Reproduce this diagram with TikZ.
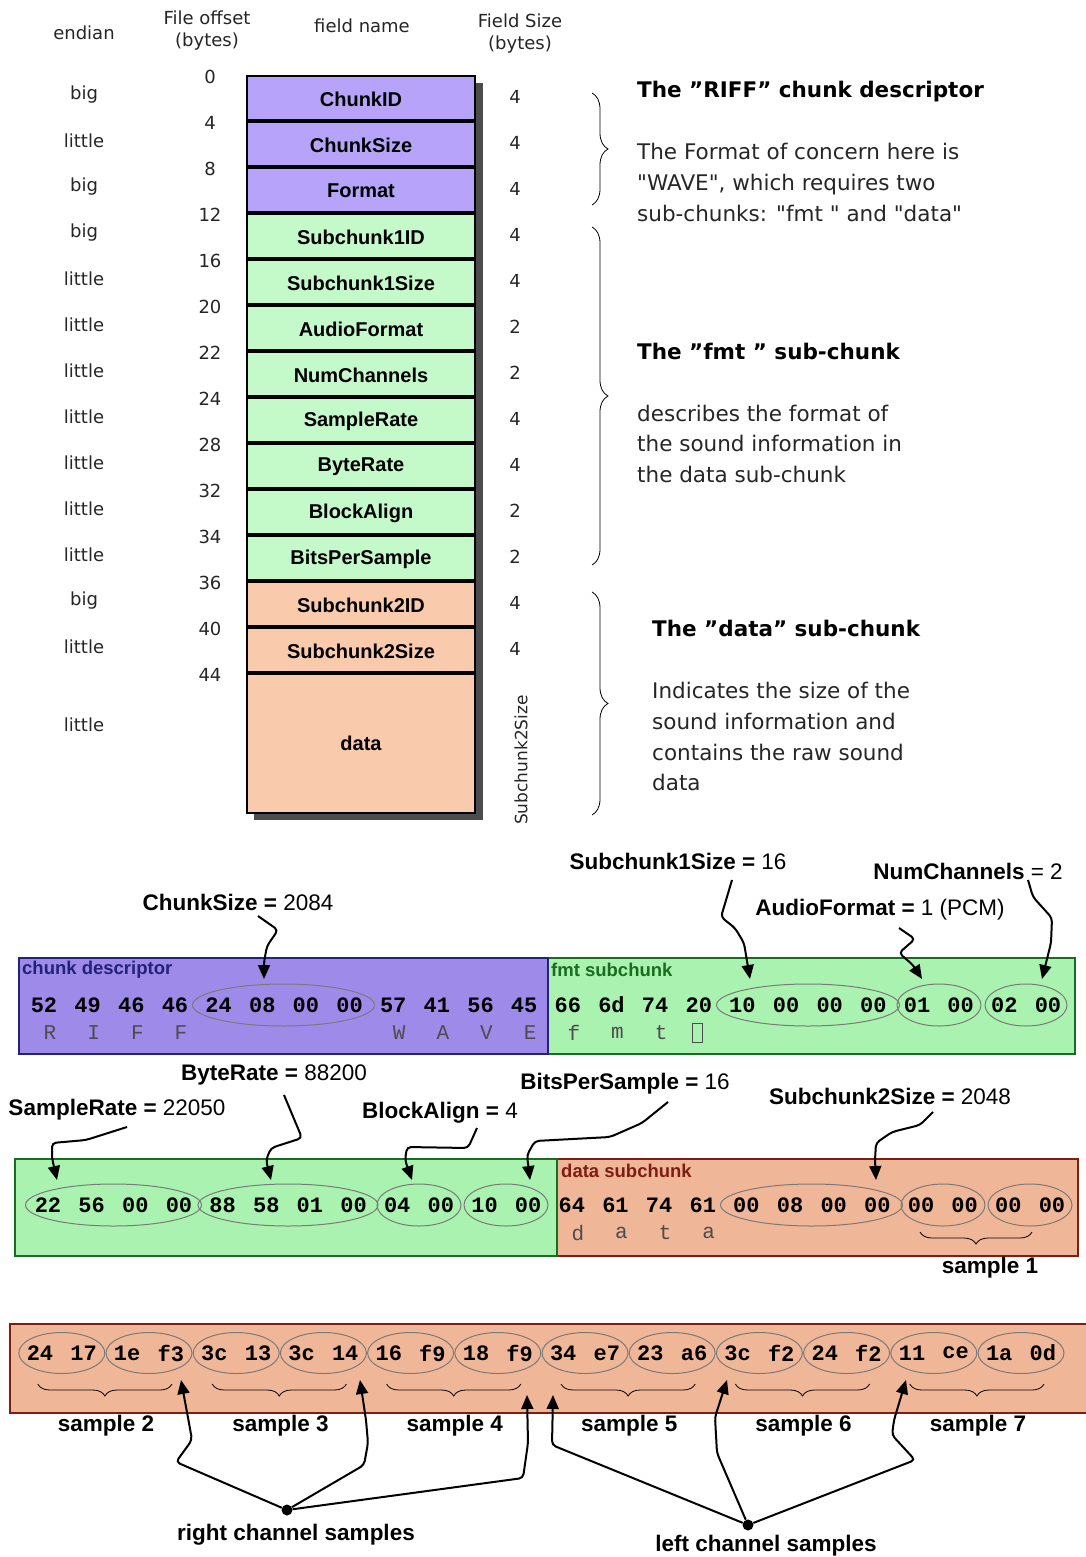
\documentclass[tikz,border=0pt]{standalone}
\usepackage{fontspec}
\setmainfont{DejaVu Sans}
\newfontfamily\plainfont[Ligatures=TeXOff]{DejaVu Sans}
\newfontfamily\labfont{Liberation Sans}
\newfontfamily\hexfont{Liberation Mono}
\usetikzlibrary{shapes.geometric,arrows.meta,decorations.pathreplacing}
\definecolor{tpurple}{HTML}{B7A3F9}
\definecolor{tgreen}{HTML}{C4F9CA}
\definecolor{torange}{HTML}{FACAAD}
\definecolor{rpurple}{HTML}{9E8AE9}
\definecolor{rgreen}{HTML}{A9F2AF}
\definecolor{rorange}{HTML}{F0B698}
\definecolor{shadowgray}{HTML}{4C4C4C}
\definecolor{navy}{HTML}{22227A}
\definecolor{dgreen}{HTML}{1C6B22}
\definecolor{dred}{HTML}{7E1E12}
\definecolor{ellgray}{HTML}{7A7A7A}
\begin{document}
\begin{tikzpicture}[x=1pt,y=-1pt,
  hdr/.style={font=\fontsize{18}{22}\selectfont, text=black!85, align=center, inner sep=0},
  fcell/.style={draw=black, line width=2pt, minimum width=228pt, anchor=north west, font=\labfont\bfseries\fontsize{20}{22}\selectfont, inner sep=0},
  desc/.style={anchor=base west, inner sep=0, font=\plainfont\fontsize{21.5}{26}\selectfont, text=black!85},
  desch/.style={anchor=base west, inner sep=0, font=\bfseries\fontsize{21.5}{26}\selectfont, text=black},
  bracestyle/.style={decorate, decoration={brace, amplitude=#1}, line width=0.8pt},
  hexs/.style={font=\hexfont\bfseries\fontsize{22}{24}\selectfont, inner sep=0},
  chs/.style={font=\hexfont\fontsize{21}{24}\selectfont, text=black!70, inner sep=0},
  ell/.style={ellipse, draw=ellgray, line width=1pt, inner sep=0, minimum height=42pt},
  lbl/.style={font=\labfont\fontsize{22.5}{26}\selectfont, inner sep=0},
  slbl/.style={font=\labfont\bfseries\fontsize{22.5}{26}\selectfont, inner sep=0},
  arr/.style={line width=2pt, -{Triangle[length=14pt,width=12pt]}, rounded corners=4pt},
  dotn/.style={circle, fill=black, inner sep=0, minimum size=11pt},
  rowbox/.style={line width=1.5pt, anchor=north west, inner sep=0},
  boxlbl/.style={anchor=west, inner sep=0, font=\labfont\bfseries\fontsize{18.5}{20}\selectfont}
]
\useasboundingbox[fill=white] (0,0) rectangle (1086,1557);

% ---------------- headers
\node[hdr] (hEnd) at (84,33) {endian};
\node[hdr] (hOff) at (207,31) {File offset\\(bytes)};
\node[hdr] (hName) at (362,26) {field name};
\node[hdr] (hSize) at (520,34) {Field Size\\(bytes)};

% ---------------- table
\fill[shadowgray] (254,83) rectangle (483,820);
\node[fcell, fill=tpurple, minimum height=46pt] (c1) at (246,75) {ChunkID};
\node[fcell, fill=tpurple, minimum height=46pt] (c2) at (246,121) {ChunkSize};
\node[fcell, fill=tpurple, minimum height=46pt] (c3) at (246,167) {Format};
\node[fcell, fill=tgreen, minimum height=46pt] (c4) at (246,213) {Subchunk1ID};
\node[fcell, fill=tgreen, minimum height=46pt] (c5) at (246,259) {Subchunk1Size};
\node[fcell, fill=tgreen, minimum height=46pt] (c6) at (246,305) {AudioFormat};
\node[fcell, fill=tgreen, minimum height=46pt] (c7) at (246,351) {NumChannels};
\node[fcell, fill=tgreen, minimum height=46pt] (c8) at (246,397) {SampleRate};
\node[fcell, fill=tgreen, minimum height=46pt] (c9) at (246,443) {ByteRate};
\node[fcell, fill=tgreen, minimum height=46pt] (c10) at (246,489) {BlockAlign};
\node[fcell, fill=tgreen, minimum height=46pt] (c11) at (246,535) {BitsPerSample};
\node[fcell, fill=torange, minimum height=46pt] (c12) at (246,581) {Subchunk2ID};
\node[fcell, fill=torange, minimum height=46pt] (c13) at (246,627) {Subchunk2Size};
\node[fcell, fill=torange, minimum height=139pt] (c14) at (246,673) {data};
\foreach \yy in {121,167,...,673} \draw[line width=3.5pt] (246,\yy) -- (474,\yy);

% offsets
\foreach \o [count=\i from 0] in {0,4,8,12,16,20,22,24,28,32,34,36,40,44}
  \node[hdr] (off\i) at (210,{77+46*\i}) {\o};
% endian
\foreach \e [count=\i from 0] in {big,little,big,big,little,little,little,little,little,little,little,big,little}
  \node[hdr] (en\i) at (84,{95+46*\i}) {\e};
\node[hdr] (en13) at (84,725) {little};
% sizes
\foreach \s [count=\i from 0] in {4,4,4,4,4,2,2,4,4,2,2,4,4}
  \node[hdr] (sz\i) at (515,{97+46*\i}) {\s};
\node[hdr, rotate=90, font=\fontsize{17}{20}\selectfont] (sz13) at (521,760) {Subchunk2Size};

% ---------------- right braces and texts
\draw[bracestyle=16] (592,93) -- (592,205);
\draw[bracestyle=16] (592,227) -- (592,565);
\draw[bracestyle=16] (592,592) -- (592,815);

\node[desch] (t1) at (637,98) {The "RIFF" chunk descriptor};
\node[desc] (t2) at (637,160) {The Format of concern here is};
\node[desc] (t3) at (637,190) {"WAVE", which requires two};
\node[desc] (t4) at (637,221) {sub-chunks: "fmt " and "data"};
\node[desch] (t5) at (637,359) {The "fmt " sub-chunk};
\node[desc] (t6) at (637,421) {describes the format of};
\node[desc] (t7) at (637,451) {the sound information in};
\node[desc] (t8) at (637,482) {the data sub-chunk};
\node[desch] (t9) at (652,636) {The "data" sub-chunk};
\node[desc] (t10) at (652,698) {Indicates the size of the};
\node[desc] (t11) at (652,729) {sound information and};
\node[desc] (t12) at (652,760) {contains the raw sound};
\node[desc] (t13) at (652,790) {data};

% ---------------- row 1
\node[rowbox, draw=dgreen, fill=rgreen, minimum width=527pt, minimum height=96pt] (rb2) at (547,957) {};
\node[rowbox, draw=navy, fill=rpurple, minimum width=529pt, minimum height=96pt] (rb1) at (18,957) {};
\node[boxlbl, text=navy] (lcd) at (22,970) {chunk descriptor};
\node[boxlbl, text=dgreen] (lfmt) at (551,970) {fmt subchunk};

\node[ell, minimum width=182pt] (e1) at (283.5,1005) {};
\node[ell, minimum width=183pt] (e2) at (808,1005) {};
\node[ell, minimum width=84pt] (e3) at (939,1005) {};
\node[ell, minimum width=82pt] (e4) at (1026,1005) {};

\foreach \v [count=\i from 0] in {52,49,46,46,24,08,00,00,57,41,56,45,66,6d,74,20,10,00,00,00,01,00,02,00}
  \node[hexs] (ha\i) at ({44+43.65*\i},1005) {\v};
\foreach \ch/\i in {R/0,I/1,F/2,F/3,W/8,A/9,V/10,E/11,f/12,m/13,t/14}
  \node[chs] (ca\i) at ({50+43.65*\i},1033) {\ch};
\node[draw=black!70, line width=1pt, minimum width=10pt, minimum height=19pt, inner sep=0] (cbox) at (697,1033) {};

\node[lbl] (l1) at (238,902) {\textbf{ChunkSize =} 2084};
\node[lbl] (l2) at (678,861) {\textbf{Subchunk1Size =} 16};
\node[lbl] (l3) at (880,910) {\textbf{AudioFormat =} 1 (PCM)};
\node[lbl] (l4) at (968,871) {\textbf{NumChannels} = 2};

\coordinate (a1s) at (258,916); \coordinate (a1e) at (264,979);
\coordinate (a2s) at (732,880); \coordinate (a2e) at (750,979);
\coordinate (a3s) at (899,928); \coordinate (a3e) at (922,979);
\coordinate (a4s) at (1028,880); \coordinate (a4e) at (1042,979);
\draw[arr] (a1s) -- (278,930) -- (267,946) -- (264,962) -- (a1e);
\draw[arr] (a2s) -- (721,917) -- (735,928) -- (744,943) -- (a2e);
\draw[arr] (a3s) -- (915,939) -- (899,953) -- (913,965) -- (a3e);
\draw[arr] (a4s) -- (1033,897) -- (1052,918) -- (1051,943) -- (a4e);

% ---------------- row 2
\node[rowbox, draw=dred, fill=rorange, minimum width=521pt, minimum height=97pt] (rb4) at (556,1158) {};
\node[rowbox, draw=dgreen, fill=rgreen, minimum width=542pt, minimum height=97pt] (rb3) at (14,1158) {};
\node[boxlbl, text=dred] (ldata) at (561,1171) {data subchunk};

\node[ell, minimum width=176pt] (f1) at (113.5,1205) {};
\node[ell, minimum width=180pt] (f2) at (288,1205) {};
\node[ell, minimum width=84pt] (f3) at (419,1205) {};
\node[ell, minimum width=84pt] (f4) at (506,1205) {};
\node[ell, minimum width=182pt] (f5) at (811.5,1205) {};
\node[ell, minimum width=84pt] (f6) at (943,1205) {};
\node[ell, minimum width=84pt] (f7) at (1030,1205) {};

\foreach \v [count=\i from 0] in {22,56,00,00,88,58,01,00,04,00,10,00,64,61,74,61,00,08,00,00,00,00,00,00}
  \node[hexs] (hb\i) at ({48+43.65*\i},1205) {\v};
\foreach \ch/\i in {d/12,a/13,t/14,a/15}
  \node[chs] (cb\i) at ({54+43.65*\i},1233) {\ch};

\draw[bracestyle=12] (1032,1232) -- (920,1232);
\node[slbl] (s1) at (990,1268) {sample 1};

\node[lbl] (l5) at (117,1110) {\textbf{SampleRate =} 22050};
\node[lbl] (l6) at (274,1075) {\textbf{ByteRate =} 88200};
\node[lbl] (l7) at (440,1113) {\textbf{BlockAlign =} 4};
\node[lbl] (l8) at (625,1084) {\textbf{BitsPerSample =} 16};
\node[lbl] (l9) at (890,1096) {\textbf{Subchunk2Size =} 2048};

\coordinate (b1s) at (127,1127); \coordinate (b1e) at (57,1180);
\coordinate (b2s) at (284,1095); \coordinate (b2e) at (271,1180);
\coordinate (b3s) at (477,1128); \coordinate (b3e) at (412,1180);
\coordinate (b4s) at (668,1102); \coordinate (b4e) at (530,1180);
\coordinate (b5s) at (933,1112); \coordinate (b5e) at (876,1180);
\draw[arr] (b1s) -- (86,1140) -- (52,1143) -- (52,1158) -- (b1e);
\draw[arr] (b2s) -- (302,1138) -- (271,1148) -- (266,1160) -- (b2e);
\draw[arr] (b3s) -- (468,1148) -- (407,1147) -- (405,1160) -- (b3e);
\draw[arr] (b4s) -- (642,1123) -- (610,1137) -- (535,1141) -- (527,1155) -- (b4e);
\draw[arr] (b5s) -- (920,1125) -- (892,1132) -- (876,1143) -- (875,1160) -- (b5e);

% ---------------- row 3
\node[rowbox, draw=dred, fill=rorange, minimum width=1085pt, minimum height=89pt] (rb5) at (9,1323) {};
\foreach \k in {0,...,11}
  \node[ell, minimum width=86pt, minimum height=41pt] (g\k) at ({61.8+87.2*\k},1353) {};
\foreach \v [count=\i from 0] in {24,17,1e,f3,3c,13,3c,14,16,f9,18,f9,34,e7,23,a6,3c,f2,24,f2,11,ce,1a,0d}
  \node[hexs] (hc\i) at ({40+43.6*\i},1353) {\v};
\foreach \k [evaluate=\k as \n using int(\k+2)] in {0,...,5} {
  \draw[bracestyle=12] ({172+174.4*\k},1384) -- ({37.8+174.4*\k},1384);
  \node[slbl] (s\n) at ({106+174.4*\k},1426) {sample \n};
}

\node[dotn] (rdot) at (287,1510) {};
\node[dotn] (ldot) at (748,1525) {};
\node[slbl] (rch) at (296,1535) {right channel samples};
\node[slbl] (lch) at (766,1546) {left channel samples};

\coordinate (r1) at (181,1380);
\coordinate (r2) at (360,1380);
\coordinate (r3) at (527,1395);
\coordinate (q1) at (553,1395);
\coordinate (q2) at (727,1380);
\coordinate (q3) at (906,1380);
\draw[arr] (rdot) -- (176,1462) -- (192,1440) -- (189,1423) -- (r1);
\draw[arr] (rdot) -- (364,1465) -- (368,1443) -- (366,1420) -- (r2);
\draw[arr] (rdot) -- (523,1478) -- (528,1443) -- (r3);
\draw[arr] (ldot) -- (552,1445) -- (q1);
\draw[arr] (ldot) -- (717,1453) -- (715,1417) -- (q2);
\draw[arr] (ldot) -- (915,1460) -- (892,1435) -- (894,1420) -- (q3);
\end{tikzpicture}
\end{document}
